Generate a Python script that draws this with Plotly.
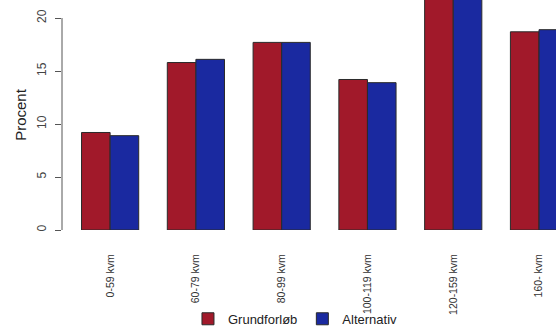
import plotly.graph_objects as go

categories = ["0-59 kvm", "60-79 kvm", "80-99 kvm", "100-119 kvm", "120-159 kvm", "160- kvm"]
grundforlob = [9.2, 15.8, 17.7, 14.2, 22.8, 18.7]
alternativ = [8.9, 16.1, 17.7, 13.9, 23.0, 18.9]
y_ticks = [0, 5, 10, 15, 20]

RED = "#A1192A"
BLUE = "#1A29A0"
FONT = "Liberation Sans, Arial, sans-serif"

fig = go.Figure()
fig.add_trace(go.Bar(x=categories, y=grundforlob, name="Grundforløb",
                     marker=dict(color=RED, line=dict(color="#2a2a2a", width=1))))
fig.add_trace(go.Bar(x=categories, y=alternativ, name="Alternativ",
                     marker=dict(color=BLUE, line=dict(color="#2a2a2a", width=1))))

fig.update_layout(
    width=556, height=326,
    margin=dict(l=62, r=0, t=0, b=96),
    paper_bgcolor="white", plot_bgcolor="white",
    barmode="group", bargap=1/3, bargroupgap=0,
    font=dict(family=FONT, color="#333"),
    showlegend=True,
    legend=dict(orientation="h", x=0.255, xanchor="left",
                yref="container", y=0.022, yanchor="middle",
                font=dict(size=13, color="#222"), itemwidth=30, tracegroupgap=0,
                bgcolor="rgba(0,0,0,0)"),
    xaxis=dict(range=[-0.561, 5.198], showgrid=False, zeroline=False, showline=False,
               automargin=False,
               tickangle=-90, ticks="outside", ticklen=19, tickcolor="rgba(0,0,0,0)",
               tickfont=dict(size=10.5, color="#333")),
    yaxis=dict(range=[0, 21.7], showgrid=False, zeroline=False, showline=False,
               automargin=False,
               tickvals=y_ticks, ticks="outside", ticklen=6, tickcolor="#555",
               ticklabelstandoff=4,
               tickangle=-90, tickfont=dict(size=12, color="#444"),
               title=dict(text="Procent", font=dict(size=15, color="#222"), standoff=4)),
)
fig.add_shape(type="line", xref="paper", yref="y", x0=0, x1=0, y0=y_ticks[0], y1=y_ticks[-1],
              line=dict(color="#555", width=1))

fig.write_html("out.html", config={"displayModeBar": False},
               post_script="document.body.style.margin='0';document.body.style.overflow='hidden';")
